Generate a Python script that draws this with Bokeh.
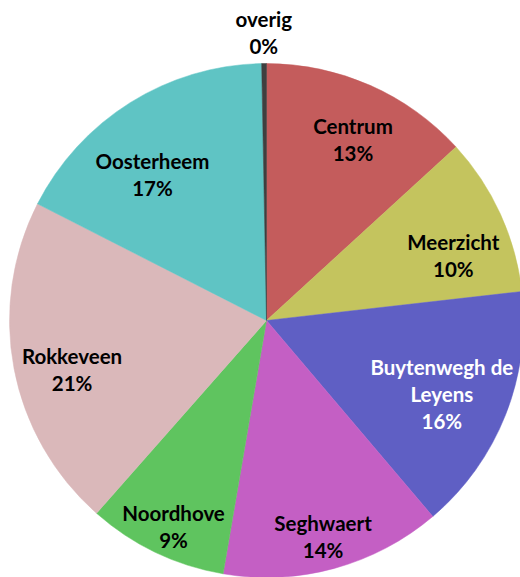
import math
from bokeh.plotting import figure
from bokeh.models import Range1d, ColumnDataSource
from bokeh.core.properties import value
from bokeh.embed import file_html
from bokeh.resources import INLINE

# data (clockwise from 12 o'clock)
districts = ["Centrum", "Meerzicht", "Buytenwegh de\nLeyens", "Seghwaert",
             "Noordhove", "Rokkeveen", "Oosterheem", "overig"]
shares = [13.2, 10.0, 15.6, 13.9, 8.8, 21.0, 17.2, 0.3]
pct_labels = ["13%", "10%", "16%", "14%", "9%", "21%", "17%", "0%"]

# styles
colors = ["#C45C5C", "#C4C45E", "#5F5FC4", "#C45FC4", "#5FC45F",
          "#DAB8BA", "#5FC4C4", "#3F3F3F"]
text_colors = ["black", "black", "white", "black", "black", "black", "black", "black"]
label_r = [0.78, 0.77, 0.74, 0.87, 0.88, 0.78, 0.72, 1.12]
label_da = [1.8, 5.2, 1.2, 0.65, -1.3, -3.25, -6.0, 0.0]

R = 257
LINE = 27

total = sum(shares)
starts, ends = [], []
cum = 0.0
for s in shares:
    a0 = cum / total
    cum += s
    a1 = cum / total
    starts.append(math.pi / 2 - 2 * math.pi * a1)
    ends.append(math.pi / 2 - 2 * math.pi * a0)

src = ColumnDataSource(dict(start=starts, end=ends, color=colors))

p = figure(width=520, height=577, output_backend="svg", toolbar_location=None,
           x_range=Range1d(-266, 254), y_range=Range1d(-257, 320),
           min_border=0)
p.axis.visible = False
p.grid.visible = False
p.outline_line_color = None
p.background_fill_color = "white"

p.wedge(x=0, y=0, radius=R, start_angle="start", end_angle="end",
        fill_color="color", line_color="color", line_width=0.5, source=src)

tx, ty, tt, tc = [], [], [], []
cum = 0.0
for i, s in enumerate(shares):
    mid = (cum + s / 2) / total * 360 + label_da[i]
    cum += s
    rad = math.radians(mid)
    cx = R * label_r[i] * math.sin(rad)
    cy = R * label_r[i] * math.cos(rad)
    lines = districts[i].split("\n") + [pct_labels[i]]
    n = len(lines)
    for j, ln in enumerate(lines):
        tx.append(cx)
        ty.append(cy - (j - (n - 1) / 2) * LINE)
        tt.append(ln)
        tc.append(text_colors[i])

tsrc = ColumnDataSource(dict(x=tx, y=ty, t=tt, c=tc))
p.text(x="x", y="y", text="t", text_color="c", source=tsrc,
       text_font=value("Lato"), text_font_style="bold",
       text_font_size="20.5px", text_align="center", text_baseline="middle")

open("out.html", "w").write(file_html(p, INLINE))
